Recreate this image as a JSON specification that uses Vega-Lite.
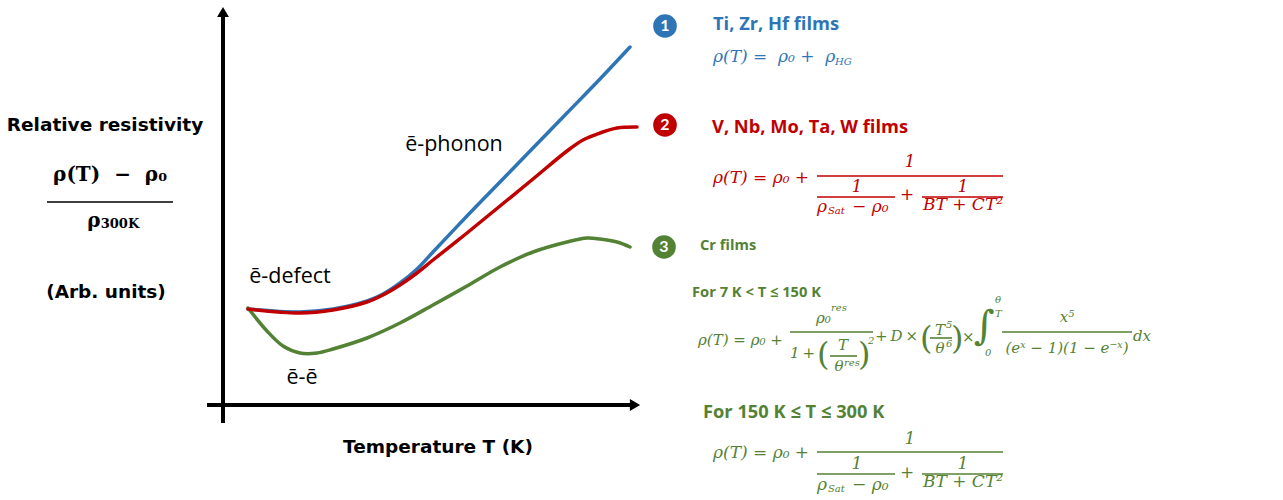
{
  "$schema": "https://vega.github.io/schema/vega-lite/v6.json",
  "width": 1283,
  "height": 500,
  "padding": 0,
  "autosize": {"type": "fit", "contains": "padding"},
  "background": "white",
  "config": {"view": {"stroke": null}},
  "datasets": {
    "curves": [
      {"s": "b", "X": 25, "Y": 96}, {"s": "b", "X": 77, "Y": 93}, {"s": "b", "X": 110, "Y": 96}, {"s": "b", "X": 144, "Y": 104}, {"s": "b", "X": 160, "Y": 111}, {"s": "b", "X": 177, "Y": 122}, {"s": "b", "X": 194, "Y": 136}, {"s": "b", "X": 210, "Y": 153}, {"s": "b", "X": 244, "Y": 189}, {"s": "b", "X": 277, "Y": 223}, {"s": "b", "X": 310, "Y": 257}, {"s": "b", "X": 344, "Y": 292}, {"s": "b", "X": 377, "Y": 326}, {"s": "b", "X": 407, "Y": 358},
      {"s": "g", "X": 25, "Y": 97}, {"s": "g", "X": 44, "Y": 74}, {"s": "g", "X": 60, "Y": 59}, {"s": "g", "X": 77, "Y": 52}, {"s": "g", "X": 94, "Y": 52}, {"s": "g", "X": 110, "Y": 56}, {"s": "g", "X": 144, "Y": 67}, {"s": "g", "X": 177, "Y": 82}, {"s": "g", "X": 210, "Y": 100}, {"s": "g", "X": 244, "Y": 119}, {"s": "g", "X": 277, "Y": 138}, {"s": "g", "X": 310, "Y": 153}, {"s": "g", "X": 344, "Y": 163}, {"s": "g", "X": 364, "Y": 167}, {"s": "g", "X": 377, "Y": 166}, {"s": "g", "X": 394, "Y": 163}, {"s": "g", "X": 407, "Y": 158},
      {"s": "r", "X": 25, "Y": 96}, {"s": "r", "X": 77, "Y": 92}, {"s": "r", "X": 110, "Y": 95}, {"s": "r", "X": 144, "Y": 103}, {"s": "r", "X": 160, "Y": 110}, {"s": "r", "X": 177, "Y": 120}, {"s": "r", "X": 194, "Y": 132}, {"s": "r", "X": 210, "Y": 145}, {"s": "r", "X": 244, "Y": 172}, {"s": "r", "X": 277, "Y": 199}, {"s": "r", "X": 310, "Y": 226}, {"s": "r", "X": 344, "Y": 254}, {"s": "r", "X": 360, "Y": 265}, {"s": "r", "X": 377, "Y": 272}, {"s": "r", "X": 394, "Y": 277}, {"s": "r", "X": 414, "Y": 278}
    ],
    "axes": [
      {"X": 0, "X2": 0, "Y": -18, "Y2": 392},
      {"X": -16, "X2": 410, "Y": 0, "Y2": 0}
    ],
    "arrows": [
      {"d": "up", "X": 0, "Y": 393},
      {"d": "right", "X": 412, "Y": 0}
    ],
    "fracs": [
      {"s": "k", "X": -176, "X2": -50, "Y": 203},
      {"s": "r", "X": 594, "X2": 780, "Y": 229},
      {"s": "r", "X": 594, "X2": 672, "Y": 208},
      {"s": "r", "X": 699, "X2": 780, "Y": 208},
      {"s": "g", "X": 594, "X2": 780, "Y": -47},
      {"s": "g", "X": 594, "X2": 672, "Y": -69},
      {"s": "g", "X": 699, "X2": 780, "Y": -69},
      {"s": "g", "X": 567, "X2": 650, "Y": 73},
      {"s": "g", "X": 607, "X2": 634, "Y": 49},
      {"s": "g", "X": 707, "X2": 729, "Y": 67},
      {"s": "g", "X": 779, "X2": 909, "Y": 73}
    ],
    "circles": [
      {"s": "b", "n": "1", "X": 442, "Y": 379},
      {"s": "r", "n": "2", "X": 442, "Y": 280},
      {"s": "g", "n": "3", "X": 441, "Y": 158}
    ],
    "blackBold": [
      {"t": "Relative resistivity", "X": -118, "Y": 280},
      {"t": "(Arb. units)", "X": -117, "Y": 113},
      {"t": "Temperature T (K)", "X": 215, "Y": -42}
    ],
    "labels": [
      {"t": "ē-phonon", "X": 231, "Y": 260},
      {"t": "ē-defect", "X": 67, "Y": 128},
      {"t": "ē-ē", "X": 79, "Y": 27}
    ],
    "serifBold": [
      {"t": "ρ(T)\u00a0\u00a0−\u00a0\u00a0ρ₀", "X": -113, "Y": 230},
      {"t": "ρ", "X": -129, "Y": 184}
    ],
    "serifBoldSmall": [
      {"t": "300K", "X": -103, "Y": 181}
    ],
    "titlesBig": [
      {"s": "b", "t": "Ti, Zr, Hf films", "X": 490, "Y": 380},
      {"s": "r", "t": "V, Nb, Mo, Ta, W films", "X": 489, "Y": 277},
      {"s": "g", "t": "For 150 K ≤ T ≤ 300 K", "X": 480, "Y": -8}
    ],
    "titlesSmall": [
      {"s": "g", "t": "Cr films", "X": 477, "Y": 159},
      {"s": "g", "t": "For 7 K < T ≤ 150 K", "X": 469, "Y": 112}
    ],
    "fL": [
      {"s": "b", "t": "ρ(T) =\u00a0\u00a0ρ₀ +\u00a0\u00a0ρ", "X": 490, "Y": 348},
      {"s": "r", "t": "ρ(T) = ρ₀ +", "X": 490, "Y": 227},
      {"s": "r", "t": "ρ", "X": 594, "Y": 198},
      {"s": "r", "t": "− ρ₀", "X": 629, "Y": 198},
      {"s": "g", "t": "ρ(T) = ρ₀ +", "X": 490, "Y": -48},
      {"s": "g", "t": "ρ", "X": 594, "Y": -80},
      {"s": "g", "t": "− ρ₀", "X": 629, "Y": -80}
    ],
    "gL": [
      {"s": "g", "t": "ρ(T) = ρ₀ +", "X": 475, "Y": 65},
      {"s": "g", "t": "ρ₀", "X": 593, "Y": 87},
      {"s": "g", "t": "1\u2009+", "X": 567, "Y": 52},
      {"s": "g", "t": "+\u2009D\u2009×", "X": 652, "Y": 69},
      {"s": "g", "t": "×", "X": 739, "Y": 68},
      {"s": "g", "t": "dx", "X": 910, "Y": 69}
    ],
    "fC": [
      {"s": "r", "t": "1", "X": 687, "Y": 243},
      {"s": "r", "t": "1", "X": 634, "Y": 218},
      {"s": "r", "t": "+", "X": 684, "Y": 210},
      {"s": "r", "t": "1", "X": 740, "Y": 218},
      {"s": "r", "t": "BT + CT²", "X": 740, "Y": 200},
      {"s": "g", "t": "1", "X": 687, "Y": -34},
      {"s": "g", "t": "1", "X": 634, "Y": -59},
      {"s": "g", "t": "+", "X": 684, "Y": -68},
      {"s": "g", "t": "1", "X": 740, "Y": -59},
      {"s": "g", "t": "BT + CT²", "X": 740, "Y": -77}
    ],
    "fC2": [
      {"s": "g", "t": "T", "X": 620, "Y": 60},
      {"s": "g", "t": "θ", "X": 616, "Y": 39},
      {"s": "g", "t": "T", "X": 717, "Y": 75},
      {"s": "g", "t": "θ", "X": 717, "Y": 57},
      {"s": "g", "t": "x⁵", "X": 844, "Y": 88},
      {"s": "g", "t": "(eˣ − 1)(1 − e⁻ˣ)", "X": 844, "Y": 57}
    ],
    "fS": [
      {"s": "b", "t": "HG", "X": 612, "Y": 343},
      {"s": "r", "t": "Sat", "X": 605, "Y": 194},
      {"s": "g", "t": "Sat", "X": 605, "Y": -84},
      {"s": "g", "t": "res", "X": 608, "Y": 97},
      {"s": "g", "t": "res", "X": 621, "Y": 42},
      {"s": "g", "t": "2", "X": 645, "Y": 64},
      {"s": "g", "t": "5", "X": 723, "Y": 80},
      {"s": "g", "t": "6", "X": 723, "Y": 61},
      {"s": "g", "t": "θ", "X": 772, "Y": 105},
      {"s": "g", "t": "T", "X": 772, "Y": 91},
      {"s": "g", "t": "0", "X": 762, "Y": 52}
    ],
    "fBig": [
      {"s": "g", "t": "(", "X": 594, "Y": 50},
      {"s": "g", "t": ")", "X": 635, "Y": 50},
      {"s": "g", "t": "(", "X": 697, "Y": 66},
      {"s": "g", "t": ")", "X": 728, "Y": 66}
    ],
    "fInt": [
      {"s": "g", "t": "∫", "X": 751, "Y": 78}
    ]
  },
  "layer": [
    {
      "data": {"name": "axes"},
      "mark": {"type": "rule", "color": "black", "strokeWidth": 4},
      "encoding": {
        "x": {"field": "X", "type": "quantitative", "scale": {"domain": [-223, 1060], "nice": false, "zero": false}, "axis": null},
        "x2": {"field": "X2"},
        "y": {"field": "Y", "type": "quantitative", "scale": {"domain": [-95, 405], "nice": false, "zero": false}, "axis": null},
        "y2": {"field": "Y2"}
      }
    },
    {
      "data": {"name": "arrows"},
      "mark": {"type": "point", "filled": true, "color": "black", "opacity": 1, "size": 140},
      "encoding": {
        "x": {"field": "X", "type": "quantitative"},
        "y": {"field": "Y", "type": "quantitative"},
        "shape": {"field": "d", "type": "nominal", "scale": {"domain": ["up", "right"], "range": ["triangle-up", "triangle-right"]}, "legend": null}
      }
    },
    {
      "data": {"name": "curves"},
      "mark": {"type": "line", "interpolate": "catmull-rom", "strokeWidth": 3.5, "strokeCap": "round"},
      "encoding": {
        "x": {"field": "X", "type": "quantitative"},
        "y": {"field": "Y", "type": "quantitative"},
        "color": {"field": "s", "type": "nominal", "scale": {"domain": ["b", "r", "g", "k"], "range": ["#2E75B6", "#C00000", "#548235", "#000000"]}, "legend": null},
        "detail": {"field": "s"}
      }
    },
    {
      "data": {"name": "fracs"},
      "mark": {"type": "rule", "strokeWidth": 1.6},
      "encoding": {
        "x": {"field": "X", "type": "quantitative"},
        "x2": {"field": "X2"},
        "y": {"field": "Y", "type": "quantitative"},
        "color": {"field": "s", "type": "nominal", "legend": null}
      }
    },
    {
      "data": {"name": "circles"},
      "mark": {"type": "point", "filled": true, "shape": "circle", "size": 560, "opacity": 1},
      "encoding": {
        "x": {"field": "X", "type": "quantitative"},
        "y": {"field": "Y", "type": "quantitative"},
        "color": {"field": "s", "type": "nominal", "legend": null}
      }
    },
    {
      "data": {"name": "circles"},
      "mark": {"type": "text", "font": "Lato", "fontWeight": "bold", "fontSize": 16, "color": "white", "baseline": "middle", "align": "center"},
      "encoding": {
        "x": {"field": "X", "type": "quantitative"},
        "y": {"field": "Y", "type": "quantitative"},
        "text": {"field": "n"}
      }
    },
    {
      "data": {"name": "blackBold"},
      "mark": {"type": "text", "font": "DejaVu Sans", "fontWeight": "bold", "fontSize": 18.5, "color": "black", "baseline": "middle", "align": "center"},
      "encoding": {
        "x": {"field": "X", "type": "quantitative"},
        "y": {"field": "Y", "type": "quantitative"},
        "text": {"field": "t"}
      }
    },
    {
      "data": {"name": "labels"},
      "mark": {"type": "text", "font": "Open Sans", "fontSize": 21.5, "color": "black", "baseline": "middle", "align": "center"},
      "encoding": {
        "x": {"field": "X", "type": "quantitative"},
        "y": {"field": "Y", "type": "quantitative"},
        "text": {"field": "t"}
      }
    },
    {
      "data": {"name": "serifBold"},
      "mark": {"type": "text", "font": "DejaVu Serif", "fontWeight": "bold", "fontSize": 20, "color": "black", "baseline": "middle", "align": "center"},
      "encoding": {
        "x": {"field": "X", "type": "quantitative"},
        "y": {"field": "Y", "type": "quantitative"},
        "text": {"field": "t"}
      }
    },
    {
      "data": {"name": "serifBoldSmall"},
      "mark": {"type": "text", "font": "DejaVu Serif", "fontWeight": "bold", "fontSize": 13, "color": "black", "baseline": "middle", "align": "center"},
      "encoding": {
        "x": {"field": "X", "type": "quantitative"},
        "y": {"field": "Y", "type": "quantitative"},
        "text": {"field": "t"}
      }
    },
    {
      "data": {"name": "titlesBig"},
      "mark": {"type": "text", "font": "Open Sans", "fontWeight": "bold", "fontSize": 18.3, "baseline": "middle", "align": "left"},
      "encoding": {
        "x": {"field": "X", "type": "quantitative"},
        "y": {"field": "Y", "type": "quantitative"},
        "text": {"field": "t"},
        "color": {"field": "s", "type": "nominal", "legend": null}
      }
    },
    {
      "data": {"name": "titlesSmall"},
      "mark": {"type": "text", "font": "Open Sans", "fontWeight": "bold", "fontSize": 14.7, "baseline": "middle", "align": "left"},
      "encoding": {
        "x": {"field": "X", "type": "quantitative"},
        "y": {"field": "Y", "type": "quantitative"},
        "text": {"field": "t"},
        "color": {"field": "s", "type": "nominal", "legend": null}
      }
    },
    {
      "data": {"name": "fL"},
      "mark": {"type": "text", "font": "DejaVu Serif", "fontStyle": "italic", "fontSize": 17, "baseline": "middle", "align": "left"},
      "encoding": {
        "x": {"field": "X", "type": "quantitative"},
        "y": {"field": "Y", "type": "quantitative"},
        "text": {"field": "t"},
        "color": {"field": "s", "type": "nominal", "legend": null}
      }
    },
    {
      "data": {"name": "gL"},
      "mark": {"type": "text", "font": "DejaVu Serif", "fontStyle": "italic", "fontSize": 15, "baseline": "middle", "align": "left"},
      "encoding": {
        "x": {"field": "X", "type": "quantitative"},
        "y": {"field": "Y", "type": "quantitative"},
        "text": {"field": "t"},
        "color": {"field": "s", "type": "nominal", "legend": null}
      }
    },
    {
      "data": {"name": "fC"},
      "mark": {"type": "text", "font": "DejaVu Serif", "fontStyle": "italic", "fontSize": 17, "baseline": "middle", "align": "center"},
      "encoding": {
        "x": {"field": "X", "type": "quantitative"},
        "y": {"field": "Y", "type": "quantitative"},
        "text": {"field": "t"},
        "color": {"field": "s", "type": "nominal", "legend": null}
      }
    },
    {
      "data": {"name": "fC2"},
      "mark": {"type": "text", "font": "DejaVu Serif", "fontStyle": "italic", "fontSize": 15, "baseline": "middle", "align": "center"},
      "encoding": {
        "x": {"field": "X", "type": "quantitative"},
        "y": {"field": "Y", "type": "quantitative"},
        "text": {"field": "t"},
        "color": {"field": "s", "type": "nominal", "legend": null}
      }
    },
    {
      "data": {"name": "fS"},
      "mark": {"type": "text", "font": "DejaVu Serif", "fontStyle": "italic", "fontSize": 10, "baseline": "middle", "align": "left"},
      "encoding": {
        "x": {"field": "X", "type": "quantitative"},
        "y": {"field": "Y", "type": "quantitative"},
        "text": {"field": "t"},
        "color": {"field": "s", "type": "nominal", "legend": null}
      }
    },
    {
      "data": {"name": "fBig"},
      "mark": {"type": "text", "font": "DejaVu Serif", "fontSize": 32, "baseline": "middle", "align": "left"},
      "encoding": {
        "x": {"field": "X", "type": "quantitative"},
        "y": {"field": "Y", "type": "quantitative"},
        "text": {"field": "t"},
        "color": {"field": "s", "type": "nominal", "legend": null}
      }
    },
    {
      "data": {"name": "fInt"},
      "mark": {"type": "text", "font": "DejaVu Serif", "fontSize": 40, "baseline": "middle", "align": "left"},
      "encoding": {
        "x": {"field": "X", "type": "quantitative"},
        "y": {"field": "Y", "type": "quantitative"},
        "text": {"field": "t"},
        "color": {"field": "s", "type": "nominal", "legend": null}
      }
    }
  ]
}
